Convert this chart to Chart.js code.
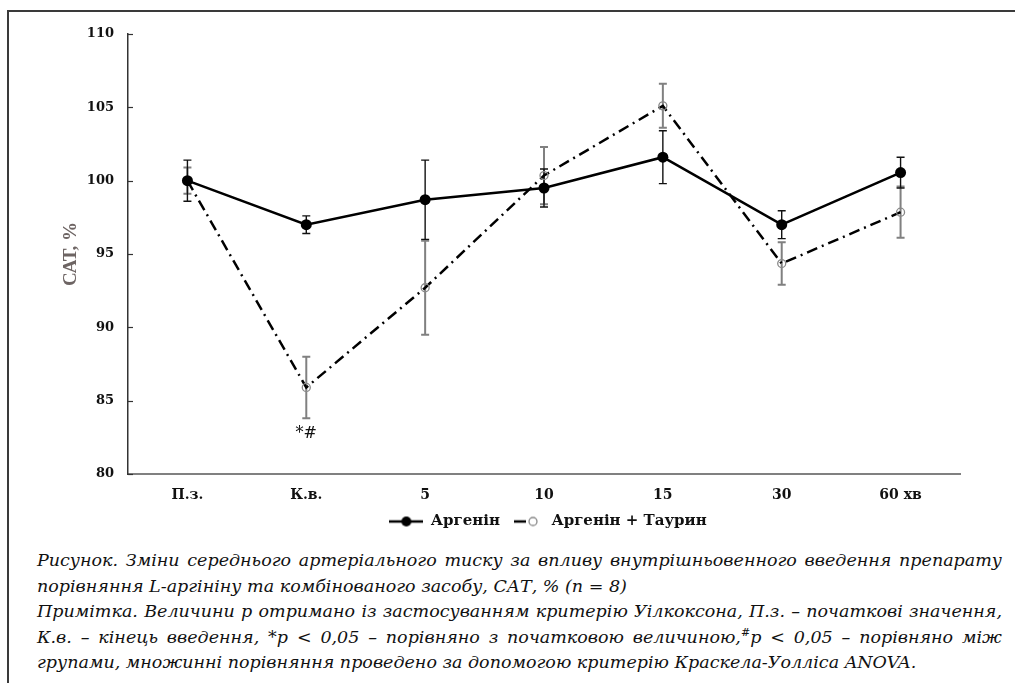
<!DOCTYPE html>
<html>
<head>
<meta charset="utf-8">
<script src="https://cdn.jsdelivr.net/npm/chart.js@4.4.1/dist/chart.umd.min.js"></script>
<style>
  html, body { margin: 0; padding: 0; background: #fff; overflow: hidden; }
  body { width: 1015px; height: 683px; position: relative; }
  #frame { position: absolute; left: 7px; top: 10px; width: 1100px; height: 800px;
           border: 2px solid #3a3a3a; box-sizing: border-box; }
  #wrap { position: absolute; left: 0; top: 0; width: 1015px; height: 540px; }
  #caption { position: absolute; left: 37px; top: 548px; width: 965px;
             font-family: "DejaVu Serif", serif; font-style: italic; font-size: 17.5px;
             line-height: 25.5px; color: #111; }
  #caption div { white-space: nowrap; }
  #caption sup { font-size: 11px; line-height: 0; }
</style>
</head>
<body>
<div id="frame"></div>
<div id="wrap"><canvas id="satChart"></canvas></div>
<div id="caption">
  <div class="j"><span>Рисунок. Зміни середнього артеріального тиску за впливу внутрішньовенного введення препарату</span></div>
  <div><span>порівняння L-аргініну та комбінованого засобу, САТ, % (n = 8)</span></div>
  <div class="j"><span>Примітка. Величини р отримано із застосуванням критерію Уілкоксона, П.з. – початкові значення,</span></div>
  <div class="j"><span>К.в. – кінець введення, *р &lt; 0,05 – порівняно з початковою величиною,<sup>#</sup>р &lt; 0,05 – порівняно між</span></div>
  <div><span>групами, множинні порівняння проведено за допомогою критерію Краскела-Уолліса ANOVA.</span></div>
</div>
<script>
// дані
const categories = ['П.з.', 'К.в.', '5', '10', '15', '30', '60 хв'];
const arginine = [100, 97.0, 98.7, 99.5, 101.6, 97.0, 100.55];
const arginineErr = [1.4, 0.6, 2.7, 1.3, 1.8, 0.95, 1.05];
const argTaurine = [100, 85.9, 92.7, 100.35, 105.1, 94.35, 97.85];
const argTaurineErr = [0.9, 2.1, 3.2, 1.95, 1.5, 1.45, 1.75];
const marks = ['', '*#', '', '', '', '', ''];
const yTicks = [80, 85, 90, 95, 100, 105, 110];

const serif = '"DejaVu Serif", serif';

// іконки для легенди: лінія + маркер
function makeIcon(kind) {
    const c = document.createElement('canvas');
    c.width = 34; c.height = 14;
    const g = c.getContext('2d');
    g.strokeStyle = '#000';
    g.lineWidth = 2.5;
    g.beginPath();
    if (kind === 'solid') { g.moveTo(0, 7); g.lineTo(34, 7); }
    else { g.moveTo(4, 7); g.lineTo(16, 7); }
    g.stroke();
    g.beginPath();
    if (kind === 'solid') {
        g.arc(17, 7, 5, 0, Math.PI * 2);
        g.fillStyle = '#000'; g.fill();
    } else {
        g.arc(23, 7, 4, 0, Math.PI * 2);
        g.strokeStyle = '#888'; g.lineWidth = 1.3; g.stroke();
    }
    return c;
}
const legendIcons = [makeIcon('solid'), makeIcon('dash')];

// вуса похибок, внутрішні засічки осі Y та позначки значущості
const extras = {
    id: 'extras',
    afterLayout(chart) {
        // легенда в оригіналі зсунута праворуч від центру
        if (chart.legend) { chart.legend.left += 68; chart.legend.right += 68; }
    },
    beforeDatasetsDraw(chart) {
        const x = chart.scales.x, y = chart.scales.y, ctx = chart.ctx;
        const sets = [
            { vals: argTaurine, err: argTaurineErr, color: '#808080', w: 2 },
            { vals: arginine, err: arginineErr, color: '#111', w: 1.4 }
        ];
        ctx.save();
        sets.forEach(s => {
            ctx.strokeStyle = s.color;
            ctx.lineWidth = s.w;
            s.vals.forEach((v, i) => {
                const px = x.getPixelForValue(i);
                const top = y.getPixelForValue(v + s.err[i]);
                const bot = y.getPixelForValue(v - s.err[i]);
                ctx.beginPath();
                ctx.moveTo(px, top); ctx.lineTo(px, bot);
                ctx.moveTo(px - 4, top); ctx.lineTo(px + 4, top);
                ctx.moveTo(px - 4, bot); ctx.lineTo(px + 4, bot);
                ctx.stroke();
            });
        });
        ctx.restore();
    },
    afterDraw(chart) {
        const x = chart.scales.x, y = chart.scales.y, ctx = chart.ctx;
        ctx.save();
        ctx.strokeStyle = '#333';
        ctx.lineWidth = 1.2;
        yTicks.forEach(t => {
            const py = Math.round(y.getPixelForValue(t)) + 0.5;
            ctx.beginPath();
            ctx.moveTo(chart.chartArea.left, py);
            ctx.lineTo(chart.chartArea.left + 5, py);
            ctx.stroke();
        });
        ctx.fillStyle = '#111';
        ctx.font = '16px ' + serif;
        ctx.textAlign = 'center';
        ctx.textBaseline = 'middle';
        marks.forEach((m, i) => {
            if (!m) return;
            const px = x.getPixelForValue(i);
            const py = y.getPixelForValue(argTaurine[i] - argTaurineErr[i]) + 16;
            ctx.fillText(m, px, py);
        });
        ctx.restore();
    }
};

function initChart() {
    const ctx = document.getElementById('satChart').getContext('2d');
    window.myChart = new Chart(ctx, {
        type: 'line',
        data: {
            labels: categories,
            datasets: [{
                label: 'Аргенін',
                data: arginine,
                borderColor: '#000',
                borderWidth: 2.5,
                pointRadius: 5.5,
                pointBackgroundColor: '#000',
                pointBorderColor: '#000',
                pointBorderWidth: 0,
                tension: 0
            }, {
                label: 'Аргенін + Таурин',
                data: argTaurine,
                borderColor: '#000',
                borderWidth: 2.5,
                borderDash: [11, 5, 2, 5],
                pointRadius: 4,
                pointBackgroundColor: 'rgba(0,0,0,0)',
                pointBorderColor: '#888',
                pointBorderWidth: 1.3,
                tension: 0
            }]
        },
        options: {
            responsive: true,
            maintainAspectRatio: false,
            animation: false,
            layout: { padding: { top: 34, right: 55, bottom: 1, left: 0 } },
            plugins: {
                tooltip: { enabled: false },
                legend: {
                    position: 'bottom',
                    labels: {
                        usePointStyle: true,
                        pointStyleWidth: 34,
                        padding: 10,
                        color: '#111',
                        font: { family: serif, size: 15, weight: 'bold' },
                        generateLabels: (chart) => chart.data.datasets.map((ds, i) => ({
                            text: ds.label,
                            pointStyle: legendIcons[i],
                            datasetIndex: i,
                            fontColor: '#111',
                            lineWidth: 0,
                            strokeStyle: 'rgba(0,0,0,0)',
                            fillStyle: 'rgba(0,0,0,0)',
                            hidden: false
                        }))
                    }
                }
            },
            scales: {
                x: {
                    offset: true,
                    grid: { display: false },
                    border: { color: '#808080', width: 2 },
                    ticks: { color: '#111', padding: 5, maxRotation: 0,
                             font: { family: serif, size: 14, weight: 'bold' } },
                    afterFit: s => { s.height = 30; }
                },
                y: {
                    min: 80, max: 110,
                    afterBuildTicks: s => { s.ticks = yTicks.map(v => ({ value: v })); },
                    grid: { display: false },
                    border: { color: '#333', width: 1.5 },
                    ticks: { color: '#111', padding: 6,
                             font: { family: serif, size: 13, weight: 'bold' } },
                    title: {
                        display: true,
                        text: 'САТ, %',
                        color: '#6d6463',
                        padding: { top: 60, bottom: 0 },
                        font: { family: 'Liberation Serif, serif', size: 19, weight: 'bold' }
                    },
                    afterFit: s => { s.width = 128; }
                }
            }
        },
        plugins: [extras]
    });
}

// вирівнювання рядків підпису по ширині через word-spacing
function fitCaption() {
    const full = 965;
    document.querySelectorAll('#caption .j').forEach(line => {
        const span = line.querySelector('span');
        const w = span.getBoundingClientRect().width;
        const spaces = (span.textContent.match(/ /g) || []).length;
        if (spaces) span.style.wordSpacing = ((full - w) / spaces) + 'px';
    });
}

window.onload = () => { initChart(); fitCaption(); };
</script>
</body>
</html>
